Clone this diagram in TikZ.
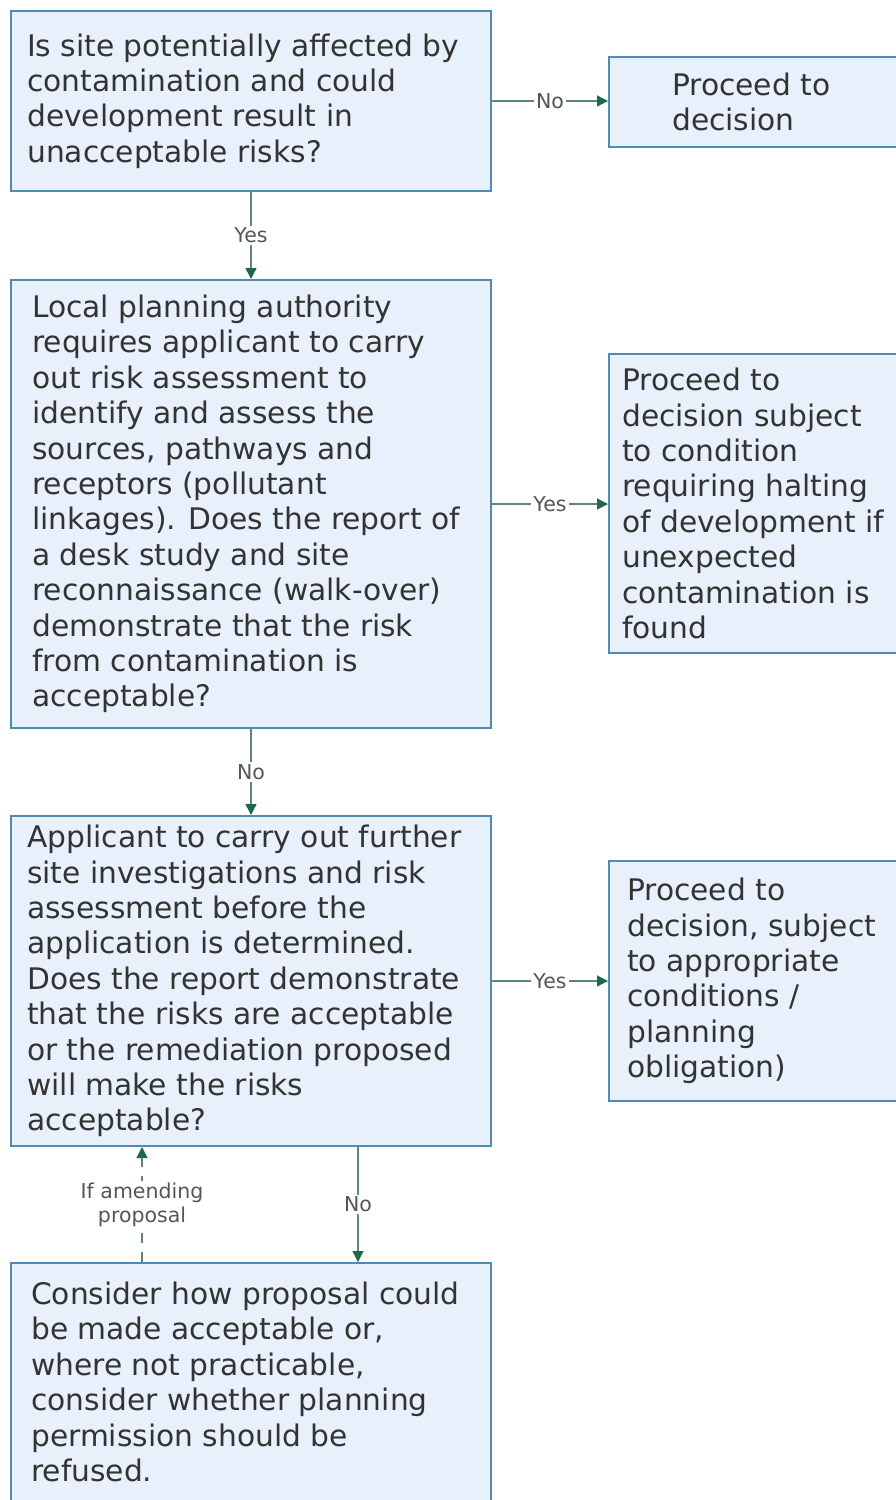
\documentclass[tikz,border=0pt]{standalone}
\usepackage{fontspec}
\setmainfont{DejaVu Sans}
\usetikzlibrary{positioning,arrows.meta}
\definecolor{boxfill}{HTML}{E8F0FC}
\definecolor{boxline}{HTML}{4F8CB5}
\definecolor{txtgrey}{HTML}{333333}
\definecolor{linkline}{HTML}{5F8574}
\definecolor{tipgreen}{HTML}{1D6B45}
\definecolor{lblgrey}{HTML}{555555}
\tikzset{
  flowbox/.style={draw=boxline, fill=boxfill, line width=2pt, anchor=north west, inner sep=0},
  boxtext/.style={align=left, inner sep=0, text=txtgrey, font=\fontsize{29.7}{35.4}\selectfont},
  link/.style={draw=linkline, line width=1.3pt, -{Triangle[length=11pt,width=11pt,color=tipgreen]}},
  lbl/.style={fill=white, inner sep=2pt, text=lblgrey, align=center, font=\fontsize{20.5}{24}\selectfont}
}
\begin{document}
\begin{tikzpicture}[x=1pt, y=-1pt]
  \useasboundingbox (0,0) rectangle (896,1500);
  \clip (0,0) rectangle (896,1500);

  % questions on the left
  \node[flowbox, minimum width=480, minimum height=180] at (10,10) (q1) {};
  \node[boxtext, right=17pt of q1.west] (q1t) {Is site potentially affected by\\contamination and could\\development result in\\unacceptable risks?};

  \node[flowbox, minimum width=480, minimum height=448] at (10,279) (q2) {};
  \node[boxtext, right=22pt of q2.west] (q2t) {Local planning authority\\requires applicant to carry\\out risk assessment to\\identify and assess the\\sources, pathways and\\receptors (pollutant\\linkages). Does the report of\\a desk study and site\\reconnaissance (walk-over)\\demonstrate that the risk\\from contamination is\\acceptable?};

  \node[flowbox, minimum width=480, minimum height=330] at (10,815) (q3) {};
  \node[boxtext, right=17pt of q3.west] (q3t) {Applicant to carry out further\\site investigations and risk\\assessment before the\\application is determined.\\Does the report demonstrate\\that the risks are acceptable\\or the remediation proposed\\will make the risks\\acceptable?};

  \node[flowbox, minimum width=480, minimum height=238] at (10,1262) (q4) {};
  \node[boxtext, right=21pt of q4.west] (q4t) {Consider how proposal could\\be made acceptable or,\\where not practicable,\\consider whether planning\\permission should be\\refused.};

  % outcomes on the right
  \node[flowbox, minimum width=300, minimum height=90] at (608,56) (out1) {};
  \node[boxtext, right=64pt of out1.west] (out1t) {Proceed to\\decision};

  \node[flowbox, minimum width=300, minimum height=299] at (608,353) (out2) {};
  \node[boxtext, right=14pt of out2.west] (out2t) {Proceed to\\decision subject\\to condition\\requiring halting\\of development if\\unexpected\\contamination is\\found};

  \node[flowbox, minimum width=300, minimum height=240] at (608,860) (out3) {};
  \node[boxtext, right=19pt of out3.west] (out3t) {Proceed to\\decision, subject\\to appropriate\\conditions /\\planning\\obligation)};

  % connectors
  \draw[link] (q1.east) -- node[lbl] {No} (q1.east -| out1.west);
  \draw[link] (q1.south) -- node[lbl] {Yes} (q2.north);
  \draw[link] (q2.east) -- node[lbl] {Yes} (q2.east -| out2.west);
  \draw[link] (q2.south) -- node[lbl] {No} (q3.north);
  \draw[link] (q3.east) -- node[lbl] {Yes} (q3.east -| out3.west);
  \draw[link] ([xshift=107pt]q3.south) -- node[lbl] {No} ([xshift=107pt]q3.south |- q4.north);
  \draw[link, dash pattern=on 10pt off 9pt] ([xshift=-109pt]q4.north) -- node[lbl] {If amending\\proposal} ([xshift=-109pt]q4.north |- q3.south);

\end{tikzpicture}
\end{document}
